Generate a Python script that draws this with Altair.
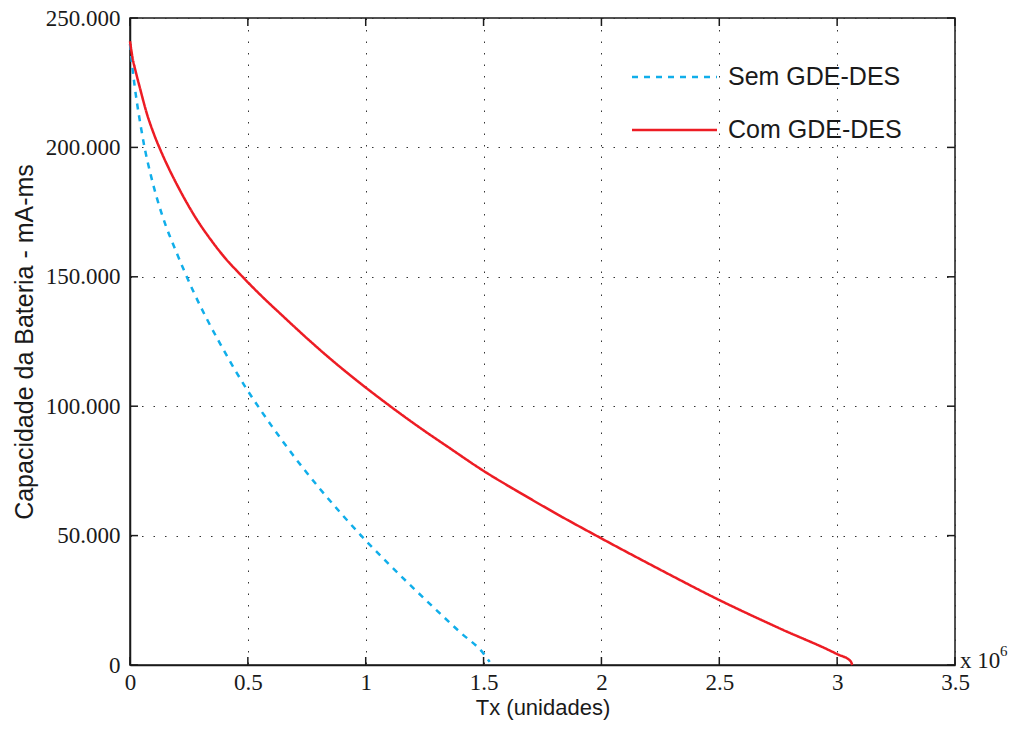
import altair as alt
import pandas as pd

# --- data (Tx in units of 10^6) ---
series_names = ["Sem GDE-DES", "Com GDE-DES"]

tx_sem = [0.0, 0.01, 0.02, 0.03, 0.045, 0.06, 0.089, 0.117, 0.151, 0.191, 0.23, 0.273,
          0.321, 0.382, 0.434, 0.491, 0.552, 0.6, 0.65, 0.7, 0.75, 0.8, 0.9, 1.0, 1.1,
          1.2, 1.3, 1.4, 1.5, 1.526]
cap_sem = [240000, 231000, 223500, 217000, 208500, 200800, 189000, 179500, 170000, 160800,
           152300, 143500, 134600, 124200, 115800, 107200, 98800, 92500, 86200, 80100,
           74300, 68700, 58100, 48100, 38800, 29900, 21200, 12700, 4400, 1200]

tx_com = [0.0, 0.01, 0.025, 0.042, 0.07, 0.1, 0.13, 0.163, 0.212, 0.276, 0.347, 0.403,
          0.467, 0.55, 0.65, 0.75, 0.85, 0.95, 1.05, 1.15, 1.25, 1.35, 1.5, 1.65, 1.8,
          2.0, 2.25, 2.5, 2.75, 3.0, 3.057, 3.064]
cap_com = [241000, 235000, 229000, 223000, 213500, 205500, 198800, 192200, 183400, 173200,
           163800, 157300, 151000, 143300, 134700, 126300, 118300, 110800, 103700, 96900,
           90400, 84200, 75000, 66800, 58900, 48900, 36800, 25100, 14400, 4200, 1500, 0]

x_ticks = [0, 0.5, 1, 1.5, 2, 2.5, 3, 3.5]
y_ticks = [0, 50000, 100000, 150000, 200000, 250000]

colors = ["#10AEEA", "#ED1C24"]
dashes = [[6, 6], [1, 0]]

W, H = 825, 647
SERIF = "Liberation Serif"
SANS = "Liberation Sans"
INK = "#1a1a1a"

df = pd.concat([
    pd.DataFrame({"tx": tx_sem, "cap": cap_sem, "serie": series_names[0], "ord": range(len(tx_sem))}),
    pd.DataFrame({"tx": tx_com, "cap": cap_com, "serie": series_names[1], "ord": range(len(tx_com))}),
])

xscale = alt.Scale(domain=[0, 3.5], nice=False, zero=False)
yscale = alt.Scale(domain=[0, 250000], nice=False)

common_axis = dict(ticks=False, grid=True, gridDash=[1.5, 10], gridColor="#333", gridWidth=1,
                   labelFont=SERIF, labelFontSize=23, labelColor=INK,
                   titleFont=SANS, titleFontWeight="normal", titleColor=INK,
                   domainColor=INK, domainWidth=1.5, labelFlush=False)
xaxis = alt.Axis(values=x_ticks, format=".1~f", title="Tx (unidades)", labelPadding=6,
                 titlePadding=3, titleFontSize=22, **common_axis)
yaxis = alt.Axis(values=y_ticks, labelExpr="replace(format(datum.value, ','), ',', '.')",
                 title="Capacidade da Bateria - mA-ms", labelPadding=10, titlePadding=8,
                 titleFontSize=25, **common_axis)

lines = alt.Chart(df).mark_line(strokeWidth=2.5, clip=False, interpolate="monotone").encode(
    x=alt.X("tx:Q", scale=xscale, axis=xaxis),
    y=alt.Y("cap:Q", scale=yscale, axis=yaxis),
    color=alt.Color("serie:N", scale=alt.Scale(domain=series_names, range=colors), legend=None),
    strokeDash=alt.StrokeDash("serie:N", scale=alt.Scale(domain=series_names, range=dashes), legend=None),
    order="ord:Q",
)

xt = pd.DataFrame({"t": x_ticks})
yt = pd.DataFrame({"t": y_ticks})
tick_style = dict(size=8, thickness=1.5, color=INK, opacity=1)
xt_bottom = alt.Chart(xt).mark_tick(orient="vertical", **tick_style).encode(
    x=alt.X("t:Q", scale=xscale), y=alt.value(H - 4))
xt_top = alt.Chart(xt).mark_tick(orient="vertical", **tick_style).encode(
    x=alt.X("t:Q", scale=xscale), y=alt.value(4))
yt_left = alt.Chart(yt).mark_tick(orient="horizontal", **tick_style).encode(
    y=alt.Y("t:Q", scale=yscale), x=alt.value(4))
yt_right = alt.Chart(yt).mark_tick(orient="horizontal", **tick_style).encode(
    y=alt.Y("t:Q", scale=yscale), x=alt.value(W - 4))

# manual legend (no box, as in the reference)
leg = pd.DataFrame({"serie": series_names})
legend_layers = []
for i, name in enumerate(series_names):
    yy = 59 + i * 53
    sub = alt.Chart(leg[leg.serie == name])
    legend_layers.append(sub.mark_rule(color=colors[i], strokeWidth=2.5, strokeDash=dashes[i]).encode(
        x=alt.value(502), x2=alt.value(587), y=alt.value(yy)))
    legend_layers.append(sub.mark_text(align="left", baseline="middle", font=SANS, fontSize=25,
                                       color=INK).encode(
        text="serie:N", x=alt.value(598), y=alt.value(yy)))

mult = pd.DataFrame({"a": ["x 10"], "b": ["6"]})
mult_text = alt.Chart(mult).mark_text(align="left", baseline="alphabetic", font=SERIF, fontSize=23,
                                      color=INK).encode(text="a:N", x=alt.value(830), y=alt.value(650))
mult_exp = alt.Chart(mult).mark_text(align="left", baseline="alphabetic", font=SERIF, fontSize=15,
                                     color=INK).encode(text="b:N", x=alt.value(870), y=alt.value(638))

chart = alt.layer(lines, xt_bottom, xt_top, yt_left, yt_right, *legend_layers, mult_text, mult_exp).properties(
    width=W, height=H,
    autosize=alt.AutoSizeParams(type="none"),
    padding={"left": 122, "top": 10, "right": 53, "bottom": 58},
    background="white",
).configure_view(stroke=INK, strokeWidth=1.5)

chart.save("out.html", embed_options={"renderer": "svg", "actions": False})
